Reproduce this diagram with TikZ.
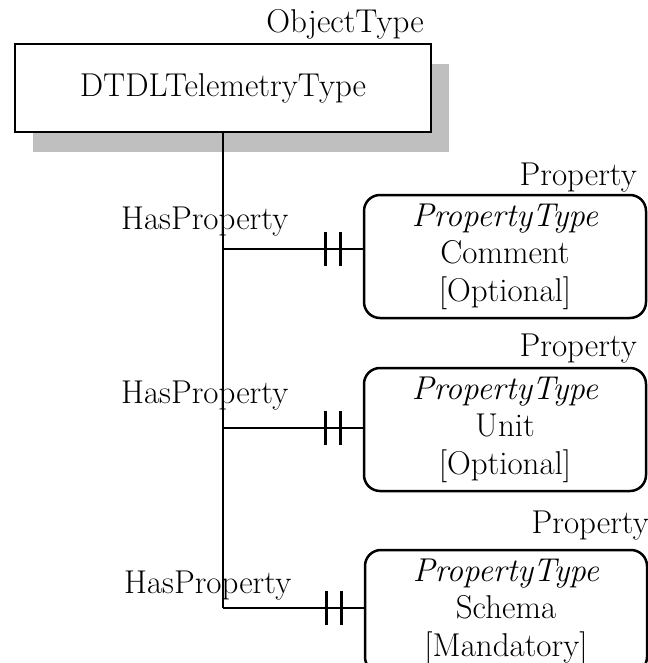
\documentclass[tikz,border=0pt]{standalone}
\usepackage{tikz}
\usetikzlibrary{shadows,decorations.markings}

\begin{document}
\begin{tikzpicture}[x=1pt, y=-1pt,
    every node/.style={font=\fontsize{33}{37.5}\selectfont, inner sep=0pt},
    objbox/.style={rectangle, draw, line width=2.5pt, fill=white, minimum width=416pt, minimum height=88pt,
        drop shadow={shadow xshift=18pt, shadow yshift=-20pt, fill=black!25, opacity=1}},
    propbox/.style={rectangle, draw, line width=2.5pt, rounded corners=16pt, align=center, minimum width=282pt, minimum height=123pt},
    link/.style={line width=1.3pt},
    twobars/.style={postaction={decorate}, decoration={markings,
        mark=at position -22pt with {\draw[line width=3pt] (0,-17pt) -- (0,17pt);},
        mark=at position -37pt with {\draw[line width=3pt] (0,-17pt) -- (0,17pt);}}}]
    \useasboundingbox (0,0) rectangle (647,663);

    \node[objbox] (obj) at (223,88) {DTDLTelemetryType};
    \node[anchor=base east] (objlbl) at (424,33) {ObjectType};

    \node[propbox] (p1) at (505,256.5) {\textit{PropertyType}\\Comment\\{}[Optional]};
    \node[propbox] (p2) at (505,429.5) {\textit{PropertyType}\\Unit\\{}[Optional]};
    \node[propbox] (p3) at (506,611.5) {\textit{PropertyType}\\Schema\\{}[Mandatory]};
    \node[anchor=base east] (p1lbl) at (637,185) {Property};
    \node[anchor=base east] (p2lbl) at (637,356) {Property};
    \node[anchor=base east] (p3lbl) at (649,533) {Property};

    \coordinate (j1) at (obj.south |- 0,249);
    \coordinate (j2) at (obj.south |- 0,428);
    \coordinate (j3) at (obj.south |- 0,608);
    \node[anchor=base west] (h1) at (121,229) {HasProperty};
    \node[anchor=base west] (h2) at (121,403) {HasProperty};
    \node[anchor=base west] (h3) at (124,593) {HasProperty};

    \draw[link] (obj.south) -- (j3);
    \draw[link,twobars] (j1) -- (j1 -| p1.west);
    \draw[link,twobars] (j2) -- (j2 -| p2.west);
    \draw[link,twobars] (j3) -- (j3 -| p3.west);
\end{tikzpicture}
\end{document}
